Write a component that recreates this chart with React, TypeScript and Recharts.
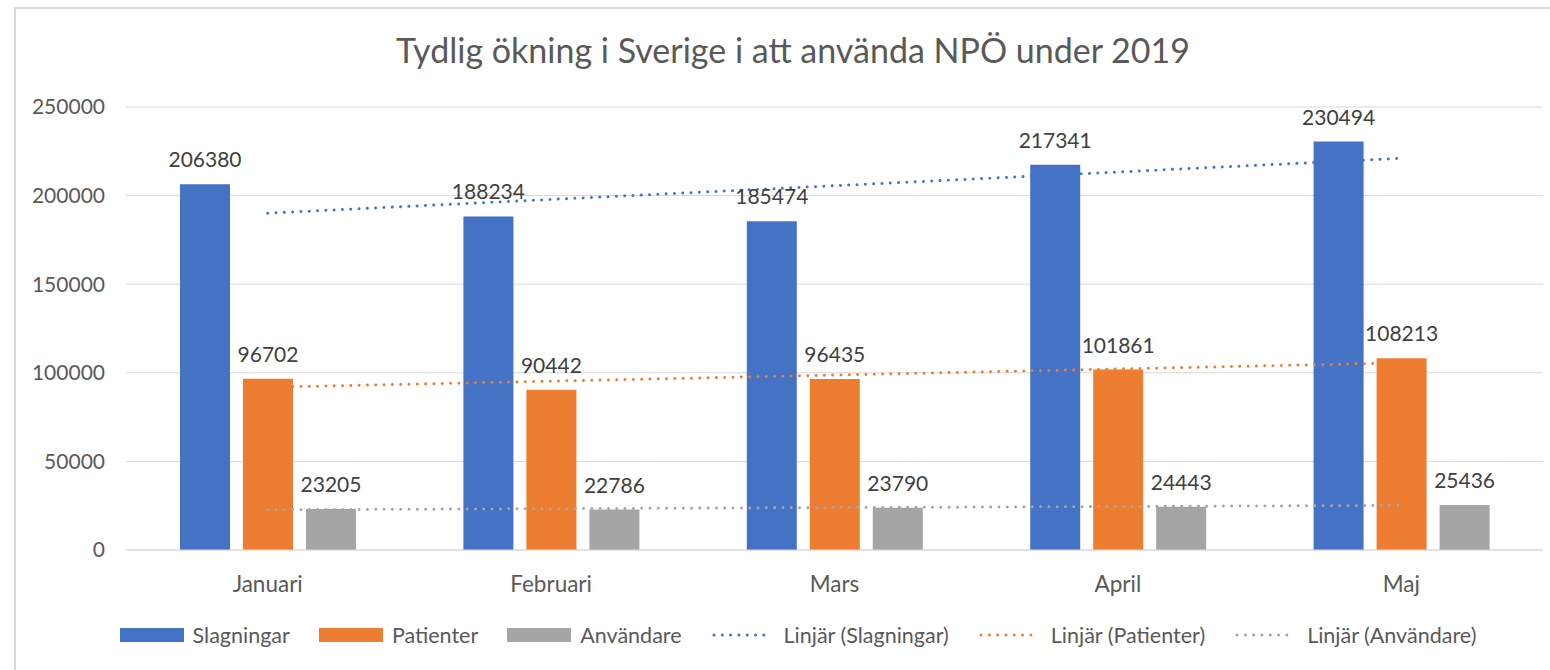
import { ComposedChart, Bar, Line, XAxis, YAxis, CartesianGrid, LabelList } from 'recharts'

const months = ['Januari', 'Februari', 'Mars', 'April', 'Maj']
const slagningar = [206380, 188234, 185474, 217341, 230494]
const patienter = [96702, 90442, 96435, 101861, 108213]
const anvandare = [23205, 22786, 23790, 24443, 25436]
// linear trendlines: only the start and end values
const trendSlagningar = [190100, null, null, null, 221050]
const trendPatienter = [91850, null, null, null, 105600]
const trendAnvandare = [22700, null, null, null, 25150]
const yTicks = [0, 50000, 100000, 150000, 200000, 250000]

const BLUE = '#4472C4'
const ORANGE = '#ED7D31'
const GRAY = '#A5A5A5'
const FONT = 'Lato, sans-serif'

const data = months.map((m, i) => ({
  month: m,
  slagningar: slagningar[i],
  patienter: patienter[i],
  anvandare: anvandare[i],
  tSlag: trendSlagningar[i],
  tPat: trendPatienter[i],
  tAnv: trendAnvandare[i],
}))

const legendItems = [
  { label: 'Slagningar', color: BLUE, dotted: false },
  { label: 'Patienter', color: ORANGE, dotted: false },
  { label: 'Användare', color: GRAY, dotted: false },
  { label: 'Linjär (Slagningar)', color: BLUE, dotted: true },
  { label: 'Linjär (Patienter)', color: ORANGE, dotted: true },
  { label: 'Linjär (Användare)', color: GRAY, dotted: true },
]

const dots = '0.01 8.3'

export default function App() {
  return (
    <div
      style={{
        position: 'absolute',
        left: 14,
        top: 7,
        width: 1536,
        height: 663,
        boxSizing: 'border-box',
        borderTop: '2px solid #d9d9d9',
        borderLeft: '2px solid #d9d9d9',
        background: 'white',
        fontFamily: FONT,
        overflow: 'hidden',
      }}
    >
      <div
        style={{
          position: 'absolute',
          left: 0,
          width: 1554,
          top: 20,
          textAlign: 'center',
          fontSize: 34,
          color: '#595959',
          lineHeight: '41px',
          whiteSpace: 'nowrap',
        }}
      >
        Tydlig ökning i Sverige i att använda NPÖ under 2019
      </div>
      <ComposedChart
        width={1534}
        height={661}
        data={data}
        margin={{ top: 98, right: 7, left: 0, bottom: 80 }}
        barSize={50}
        barGap={13}
      >
        <CartesianGrid vertical={false} stroke="#d9d9d9" />
        <XAxis
          dataKey="month"
          axisLine={{ stroke: '#d9d9d9' }}
          tickLine={false}
          tickMargin={20}
          height={40}
          tick={{ fill: '#595959', fontSize: 22.5, fontFamily: FONT }}
        />
        <YAxis
          domain={[0, 250000]}
          ticks={yTicks}
          width={110}
          axisLine={false}
          tickLine={false}
          tickMargin={15}
          tick={{ fill: '#595959', fontSize: 21, fontFamily: FONT }}
        />
        <Line dataKey="tSlag" stroke={BLUE} strokeWidth={3} strokeLinecap="round" strokeDasharray={dots} dot={false} connectNulls isAnimationActive={false} />
        <Line dataKey="tPat" stroke={ORANGE} strokeWidth={3} strokeLinecap="round" strokeDasharray={dots} dot={false} connectNulls isAnimationActive={false} />
        <Line dataKey="tAnv" stroke={GRAY} strokeWidth={3} strokeLinecap="round" strokeDasharray={dots} dot={false} connectNulls isAnimationActive={false} />
        <Bar dataKey="slagningar" fill={BLUE} isAnimationActive={false}>
          <LabelList dataKey="slagningar" position="top" offset={17} fill="#404040" fontSize={21} fontFamily={FONT} />
        </Bar>
        <Bar dataKey="patienter" fill={ORANGE} isAnimationActive={false}>
          <LabelList dataKey="patienter" position="top" offset={17} fill="#404040" fontSize={21} fontFamily={FONT} />
        </Bar>
        <Bar dataKey="anvandare" fill={GRAY} isAnimationActive={false}>
          <LabelList dataKey="anvandare" position="top" offset={17} fill="#404040" fontSize={21} fontFamily={FONT} />
        </Bar>
      </ComposedChart>
      <div
        style={{
          position: 'absolute',
          left: 0,
          width: 1564,
          top: 613,
          display: 'flex',
          justifyContent: 'center',
          alignItems: 'center',
          gap: 29,
          fontSize: 21.5,
          color: '#595959',
        }}
      >
        {legendItems.map((it) => (
          <div key={it.label} style={{ display: 'flex', alignItems: 'center', gap: 9 }}>
            {it.dotted ? (
              <svg width={64} height={14}>
                <line x1={3} y1={7} x2={61} y2={7} stroke={it.color} strokeWidth={3} strokeLinecap="round" strokeDasharray={dots} />
              </svg>
            ) : (
              <div style={{ width: 64, height: 14, background: it.color }} />
            )}
            <span>{it.label}</span>
          </div>
        ))}
      </div>
    </div>
  )
}
